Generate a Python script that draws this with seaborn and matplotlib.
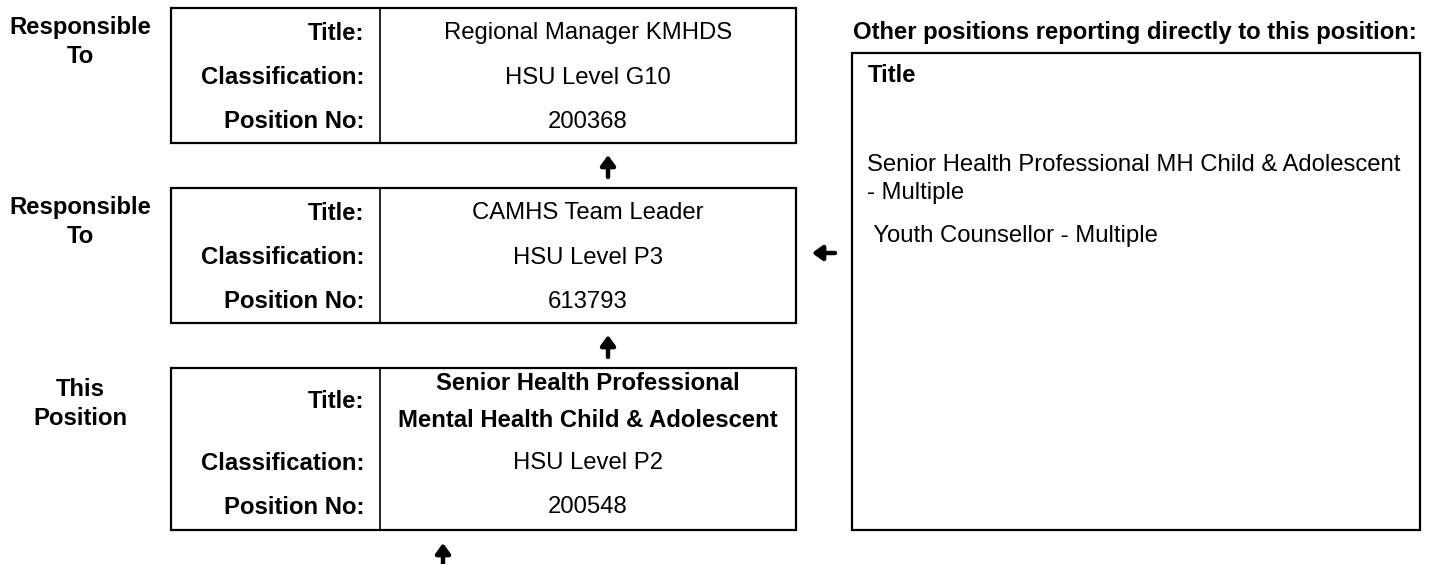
import matplotlib
matplotlib.use("Agg")
import matplotlib.pyplot as plt
from matplotlib.patches import Rectangle
import seaborn as sns

# chart content
side_labels = ["Responsible\nTo", "Responsible\nTo", "This\nPosition"]
field_names = ["Title:", "Classification:", "Position No:"]
titles = ["Regional Manager KMHDS", "CAMHS Team Leader",
          "Senior Health Professional\nMental Health Child & Adolescent"]
classifications = ["HSU Level G10", "HSU Level P3", "HSU Level P2"]
position_nos = ["200368", "613793", "200548"]
other_header = "Other positions reporting directly to this position:"
other_positions = ["Senior Health Professional MH Child & Adolescent\n- Multiple",
                   " Youth Counsellor - Multiple"]

sns.set_theme(style="white")
plt.rcParams["font.family"] = ["Liberation Sans", "DejaVu Sans"]
plt.rcParams["text.color"] = "black"

fig = plt.figure(figsize=(14.31, 5.64), dpi=100)
ax = fig.add_axes([0, 0, 1, 1])
ax.set_xlim(0, 1431)
ax.set_ylim(564, 0)
ax.axis("off")

fs = 17.2
box_left, box_div, box_right = 171, 380, 796
box_tops = [8, 188, 368]
box_heights = [135, 135, 162]

for i in range(3):
    top, h = box_tops[i], box_heights[i]
    ax.add_patch(Rectangle((box_left, top), box_right - box_left, h,
                           fill=False, ec="black", lw=1.6))
    ax.plot([box_div, box_div], [top, top + h], color="black", lw=1.2)
    if i < 2:
        rows = [top + 25, top + 70, top + 114]
        ax.text(80, top + 34, side_labels[i], ha="center", va="center",
                fontsize=fs, fontweight="bold", linespacing=1.3)
        ax.text(588, rows[0], titles[i], ha="center", va="center", fontsize=fs)
    else:
        rows = [top + 33, top + 95, top + 139]
        ax.text(80, top + 36, side_labels[i], ha="center", va="center",
                fontsize=fs, fontweight="bold", linespacing=1.3)
        ax.text(588, rows[0] + 1, titles[i], ha="center", va="center", fontsize=fs,
                fontweight="bold", linespacing=1.75)
    for name, y in zip(field_names, rows):
        ax.text(364, y, name, ha="right", va="center", fontsize=fs, fontweight="bold")
    ax.text(588, rows[1], classifications[i], ha="center", va="center", fontsize=fs)
    ax.text(588, rows[2], position_nos[i], ha="center", va="center", fontsize=fs)

# arrows
arrow_kw = dict(arrowstyle="-|>,head_length=0.5,head_width=0.36", color="black",
                lw=3.2, shrinkA=0, shrinkB=0)
for x, y_lo, y_hi in [(608, 177, 155), (608, 357, 335), (443, 564, 543)]:
    ax.annotate("", xy=(x, y_hi), xytext=(x, y_lo), arrowprops=arrow_kw)
ax.annotate("", xy=(812, 253), xytext=(835, 253), arrowprops=arrow_kw)

# right-hand box
ax.text(853, 32, other_header, ha="left", va="center", fontsize=fs, fontweight="bold")
ax.add_patch(Rectangle((852, 53), 568, 477, fill=False, ec="black", lw=1.6))
ax.text(868, 76, "Title", ha="left", va="center", fontsize=fs, fontweight="bold")
ax.text(867, 179, other_positions[0], ha="left", va="center", fontsize=fs, linespacing=1.38)
ax.text(867, 236, other_positions[1], ha="left", va="center", fontsize=fs)

fig.savefig("out.png", dpi=100, facecolor="white")
